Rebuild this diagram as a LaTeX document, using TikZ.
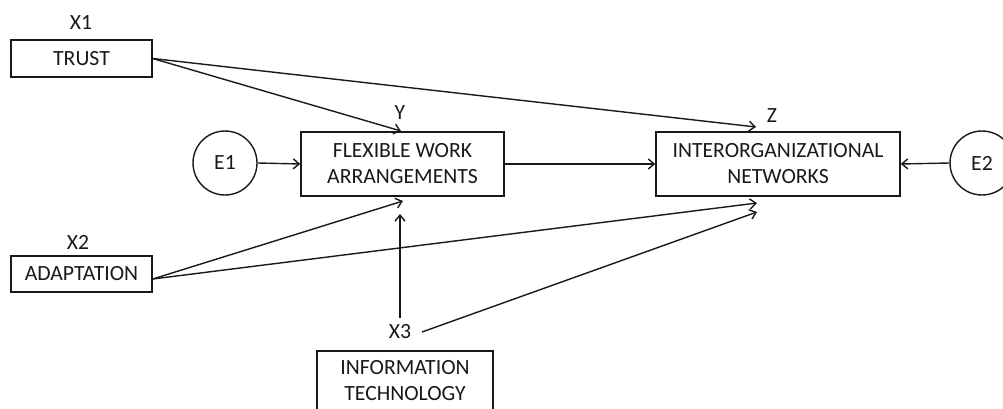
\documentclass[tikz,border=0pt]{standalone}
\usepackage{fontspec}
\setmainfont{Carlito}
\usetikzlibrary{arrows.meta}
\definecolor{inkc}{RGB}{25,25,25}
\definecolor{txtc}{RGB}{25,25,25}
\begin{document}
\begin{tikzpicture}[x=1pt,y=-1pt,
  every node/.style={font=\fontsize{21.7}{26}\selectfont, text=txtc},
  varbox/.style={draw=inkc, line width=1.4pt, rectangle, align=center, inner sep=0pt},
  errc/.style={draw=inkc, line width=1.4pt, circle, minimum size=64pt, inner sep=0pt},
  lbl/.style={inner sep=3pt},
  conn/.style={draw=inkc, line width=1.4pt, -{Straight Barb[length=6pt,width=10pt]}},
  plain/.style={draw=inkc, line width=1.4pt}]
\useasboundingbox (0,0) rectangle (1003,409);

% boxes
\node[varbox, minimum width=141pt, minimum height=37pt] (trust) at (81.5,58.5) {TRUST};
\node[varbox, minimum width=141pt, minimum height=36pt] (adapt) at (81.5,274) {ADAPTATION};
\node[varbox, minimum width=203pt, minimum height=64pt] (fwe) at (402.5,164) {FLEXIBLE WORK\\ARRANGEMENTS};
\node[varbox, minimum width=244pt, minimum height=64pt] (io) at (778,164) {INTERORGANIZATIONAL\\NETWORKS};
\node[varbox, minimum width=176pt, minimum height=60pt] (it) at (405,381) {INFORMATION\\TECHNOLOGY};
\node[errc] (e1) at (225,163) {E1};
\node[errc] (e2) at (982,163) {E2};

% labels
\node[lbl] (x1) at (81,22.5) {X1};
\node[lbl] (x2) at (78,242) {X2};
\node[lbl] (ylab) at (400,113) {Y};
\node[lbl] (zlab) at (772,116) {Z};
\node[lbl] (x3) at (400,332) {X3};

% arrow tip points
\coordinate (ytop) at (401,131);
\coordinate (ztop) at (756,127);
\coordinate (ybot1) at (403,201);
\coordinate (ybot2) at (400,214);
\coordinate (zbot1) at (757,203);
\coordinate (zbot2) at (757,212);
\coordinate (x3s) at (422,332);
\coordinate (x3v) at (400,318);

% connectors
\draw[conn] (trust.east) -- (ytop);
\draw[conn] (trust.east) -- (ztop);
\draw[conn] (e1.east) -- (fwe.west);
\draw[conn] (fwe.east) -- (io.west);
\draw[conn] (e2.west) -- (io.east);
\draw[conn] ([yshift=-5pt]adapt.east) -- (ybot1);
\draw[conn] ([yshift=-5pt]adapt.east) -- (zbot1);
\draw[conn] (x3v) -- (ybot2);
\draw[conn] (x3s) -- (zbot2);
\end{tikzpicture}
\end{document}
